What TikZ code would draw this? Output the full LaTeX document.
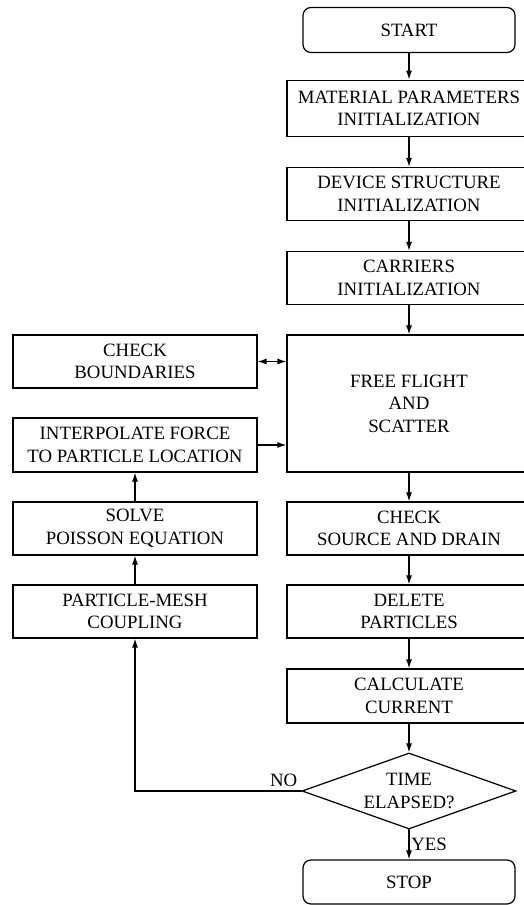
\documentclass[tikz,border=0pt]{standalone}
\usepackage{fontspec}
\setmainfont{Liberation Serif}
\usetikzlibrary{arrows.meta,shapes.geometric}

\begin{document}
\begin{tikzpicture}[>={Latex[length=1.8mm,width=1.2mm]},line width=0.7pt,line cap=round,
  font=\fontsize{10.7}{12.8}\selectfont,
  proc/.style={draw,rectangle,minimum width=4.88cm,minimum height=1.06cm,align=center,inner sep=0pt},
  term/.style={draw,rounded corners=1.6mm,minimum width=4.24cm,minimum height=0.9cm,align=center,inner sep=0pt},
  decide/.style={draw,diamond,aspect=2.8,minimum width=4.28cm,minimum height=1.52cm,align=center,inner sep=0pt}]
\useasboundingbox (0,0) rectangle (10.48,18.1);
% main column
\node[term] (start) at (8.18,17.5) {START};
\node[proc,minimum height=1.13cm] (matp) at (8.18,15.93) {MATERIAL PARAMETERS\\INITIALIZATION};
\node[proc] (devs) at (8.18,14.22) {DEVICE STRUCTURE\\INITIALIZATION};
\node[proc] (carr) at (8.18,12.54) {CARRIERS\\INITIALIZATION};
\node[proc,minimum height=2.74cm] (flight) at (8.18,10.03) {FREE FLIGHT\\AND\\SCATTER};
\node[proc] (srcdrn) at (8.18,7.53) {CHECK\\SOURCE AND DRAIN};
\node[proc] (delp) at (8.18,5.87) {DELETE\\PARTICLES};
\node[proc,minimum height=1.08cm] (curr) at (8.18,4.18) {CALCULATE\\CURRENT};
\node[decide] (elapsed) at (8.18,2.28) {TIME\\ELAPSED?};
\node[term,minimum height=0.88cm] (stop) at (8.18,0.46) {STOP};
% field solver column
\node[proc] (checkb) at (2.70,10.87) {CHECK\\BOUNDARIES};
\node[proc,minimum height=1.08cm] (interp) at (2.70,9.20) {INTERPOLATE FORCE\\TO PARTICLE LOCATION};
\node[proc] (poisson) at (2.70,7.53) {SOLVE\\POISSON EQUATION};
\node[proc] (pmesh) at (2.70,5.87) {PARTICLE-MESH\\COUPLING};
% connectors
\draw[->] (start) -- (matp);
\draw[->] (matp) -- (devs);
\draw[->] (devs) -- (carr);
\draw[->] (carr) -- (flight);
\draw[->] (flight) -- (srcdrn);
\draw[->] (srcdrn) -- (delp);
\draw[->] (delp) -- (curr);
\draw[->] (curr) -- (elapsed);
\draw[->] (elapsed) -- node[right,inner sep=1pt]{YES} (stop);
\draw[->] (elapsed.west) node[above left,inner sep=2pt]{NO} -| (pmesh);
\draw[->] (pmesh) -- (poisson);
\draw[->] (poisson) -- (interp);
\draw[->] (interp.east) -- (interp.east -| flight.west);
\draw[<->] (checkb.east) -- (checkb.east -| flight.west);
\end{tikzpicture}
\end{document}
